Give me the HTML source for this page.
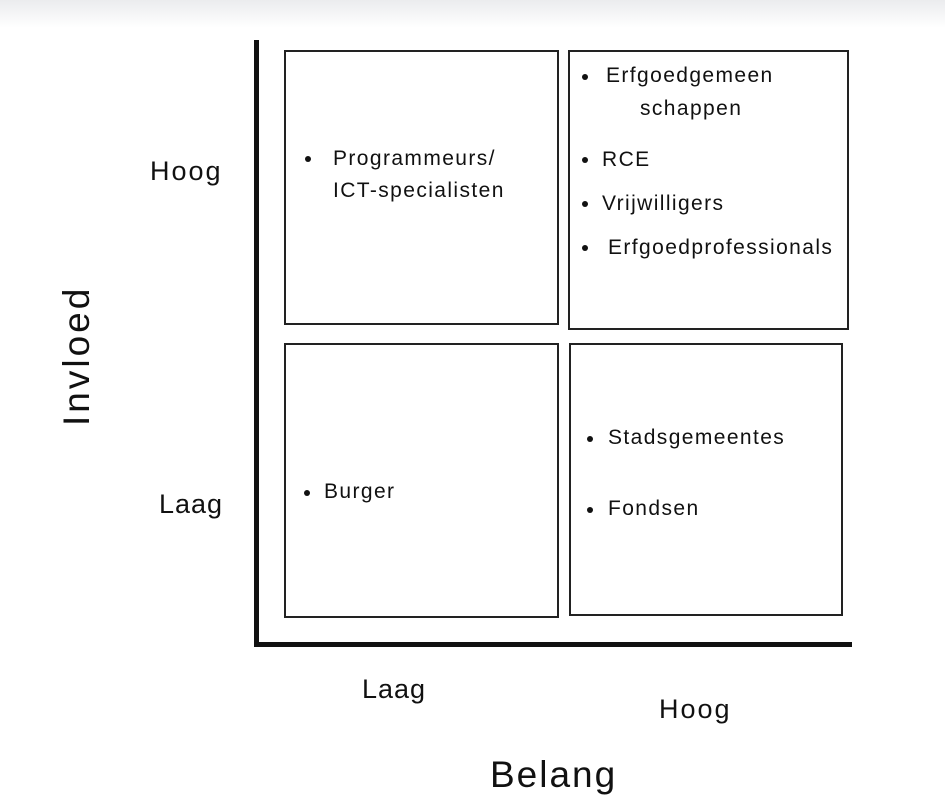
<!DOCTYPE html>
<html><head><meta charset="utf-8"><style>
body{margin:0;width:945px;height:808px;background:#fff;position:relative;overflow:hidden;font-family:"Liberation Sans",sans-serif;color:#111}
.top{position:absolute;left:0;top:0;width:945px;height:28px;background:linear-gradient(#ebecee,#fff)}
.b{position:absolute;border:2px solid #222;box-sizing:border-box}
.t{position:absolute;font-size:21px;letter-spacing:1.4px;white-space:nowrap;line-height:24px}
.d{position:absolute;width:6px;height:6px;border-radius:50%;background:#111}
.l{position:absolute;font-size:28px;white-space:nowrap}
</style></head><body>
<div class="top"></div>
<div style="position:absolute;left:254px;top:40px;width:5px;height:607px;background:#111"></div>
<div style="position:absolute;left:254px;top:642px;width:598px;height:5px;background:#111"></div>
<div class="b" style="left:284px;top:50px;width:275px;height:275px"></div>
<div class="b" style="left:568px;top:50px;width:281px;height:280px"></div>
<div class="b" style="left:284px;top:343px;width:275px;height:275px"></div>
<div class="b" style="left:569px;top:343px;width:274px;height:273px"></div>

<div class="d" style="left:305px;top:156px"></div>
<div class="t" style="left:333px;top:147px">Programmeurs/</div>
<div class="t" style="left:333px;top:179px">ICT-specialisten</div>

<div class="d" style="left:582px;top:74px"></div>
<div class="t" style="left:606px;top:64px">Erfgoedgemeen</div>
<div class="t" style="left:640px;top:97px">schappen</div>
<div class="d" style="left:582px;top:157px"></div>
<div class="t" style="left:602px;top:148px">RCE</div>
<div class="d" style="left:582px;top:201px"></div>
<div class="t" style="left:602px;top:192px">Vrijwilligers</div>
<div class="d" style="left:582px;top:245px"></div>
<div class="t" style="left:608px;top:236px">Erfgoedprofessionals</div>

<div class="d" style="left:304px;top:490px"></div>
<div class="t" style="left:324px;top:480px">Burger</div>

<div class="d" style="left:587px;top:436px"></div>
<div class="t" style="left:608px;top:426px">Stadsgemeentes</div>
<div class="d" style="left:587px;top:507px"></div>
<div class="t" style="left:608px;top:497px">Fondsen</div>

<div class="l" style="left:150px;top:156px;font-size:27px;letter-spacing:2px">Hoog</div>
<div class="l" style="left:159px;top:489px;font-size:27px;letter-spacing:1px">Laag</div>
<div class="l" style="left:362px;top:674px;font-size:27px;letter-spacing:1px">Laag</div>
<div class="l" style="left:659px;top:694px;font-size:27px;letter-spacing:2px">Hoog</div>
<div class="l" style="left:490px;top:754px;font-size:37px;letter-spacing:2px">Belang</div>
<div class="l" style="left:56px;top:426px;font-size:37px;letter-spacing:3px;transform:rotate(-90deg);transform-origin:0 0;width:140px">Invloed</div>
</body></html>
